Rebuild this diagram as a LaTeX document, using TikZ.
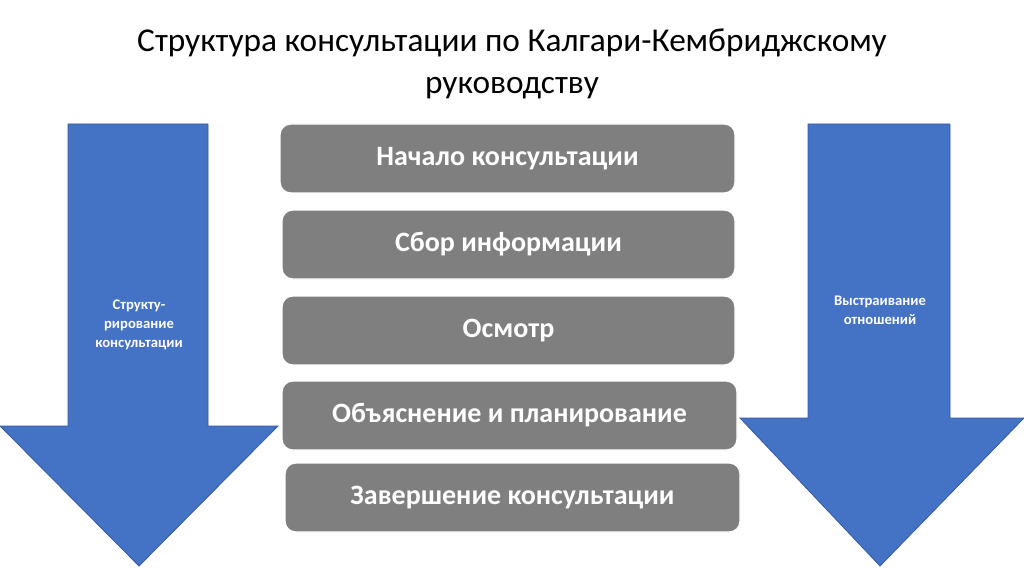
\documentclass[tikz,border=0pt]{standalone}
\usepackage{fontspec}
\setmainfont{Carlito}
\begin{document}
\begin{tikzpicture}[x=0.75pt,y=-0.75pt,
  arr/.style={fill=arrblue,draw=arrblue!80!black,line width=0.6pt},
  box/.style={draw=white,line width=1pt,fill=boxgray,rounded corners=8pt,text=white,font=\bfseries\fontsize{21}{25}\selectfont},
  lab/.style={text=white,font=\bfseries\fontsize{11}{14}\selectfont,align=center}]
\definecolor{arrblue}{HTML}{4472C4}
\definecolor{boxgray}{HTML}{7F7F7F}
\useasboundingbox (0,0) rectangle (1024,574);
\node[font=\fontsize{25}{31}\selectfont,align=center] (title) at (512,64) {Структура консультации по Калгари-Кембриджскому\\руководству};
\draw[arr] (68,124) -- (208,124) -- (208,426) -- (278,426) -- (139,566) -- (0,426) -- (68,426) -- cycle;
\node[lab] (l) at (139,325) {Структу-\\рирование\\консультации};
\draw[arr] (808,124) -- (950,124) -- (950,418) -- (1024,418) -- (880,566) -- (740,418) -- (808,418) -- cycle;
\node[lab] (r) at (880,310) {Выстраивание\\отношений};
\node[box,minimum width=455*0.75pt,minimum height=69*0.75pt] (b1) at (507.5,158.5) {Начало консультации};
\node[box,minimum width=453*0.75pt,minimum height=69*0.75pt] (b2) at (508.5,244.5) {Сбор информации};
\node[box,minimum width=453*0.75pt,minimum height=69*0.75pt] (b3) at (508.5,330.5) {Осмотр};
\node[box,minimum width=455*0.75pt,minimum height=69*0.75pt] (b4) at (509.5,415.5) {Объяснение и планирование};
\node[box,minimum width=455*0.75pt,minimum height=69*0.75pt] (b5) at (512.5,497.5) {Завершение консультации};
\end{tikzpicture}
\end{document}
